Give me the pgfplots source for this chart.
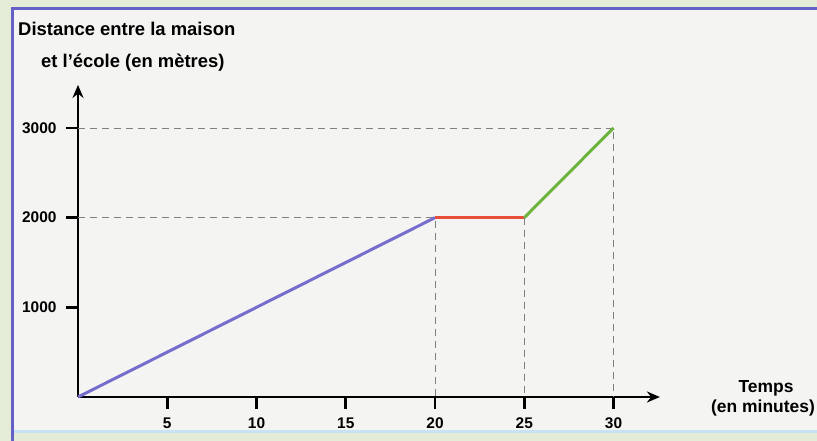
\documentclass[border=0pt]{standalone}
\usepackage{pgfplots}
\pgfplotsset{compat=1.18}
\usepackage{fontspec}
\setmainfont{Liberation Sans}
\usetikzlibrary{arrows.meta}
\definecolor{outerbg}{RGB}{228,236,216}
\definecolor{innerbg}{RGB}{244,244,242}
\definecolor{frameblue}{RGB}{100,96,200}
\definecolor{lightblue}{RGB}{200,225,245}
\definecolor{lblue}{RGB}{118,110,205}
\definecolor{lred}{RGB}{232,78,58}
\definecolor{lgreen}{RGB}{108,180,62}
\newcommand{\tickfont}{\fontsize{15.5}{18}\selectfont\bfseries}
\begin{document}
\begin{tikzpicture}[x=1bp,y=1bp]
\fill[outerbg] (0,0) rectangle (817,441);
\useasboundingbox (0,0) rectangle (817,441);
\fill[innerbg] (12,9) rectangle (817,432);
\draw[frameblue, line width=3bp] (12,0) -- (12,432) -- (817,432);
\draw[lightblue, line width=3bp] (14,9) -- (817,9);
\node[anchor=base west, inner sep=0pt, font=\fontsize{18.5}{22}\selectfont\bfseries] at (18,405) {Distance entre la maison};
\node[anchor=base west, inner sep=0pt, font=\fontsize{18.5}{22}\selectfont\bfseries] at (41,373) {et l'école (en mètres)};
\node[anchor=base, inner sep=0pt, font=\fontsize{17.5}{20}\selectfont\bfseries] at (766,48) {Temps};
\node[anchor=base, inner sep=0pt, font=\fontsize{17.5}{20}\selectfont\bfseries] at (763,28) {(en minutes)};
\begin{axis}[
  at={(78bp,44bp)}, anchor=south west,
  x=17.85bp, y=0.08967bp,
  xmin=0, xmax=32.6, ymin=0, ymax=3480,
  axis lines=left,
  axis line style={line width=2.6bp, -{Stealth[length=13bp,width=11bp]}},
  xtick={5,10,15,20,25,30},
  xticklabels={\tickfont 5,\tickfont 10,\tickfont 15,\tickfont 20,\tickfont 25,\tickfont 30},
  ytick={1000,2000,3000},
  yticklabels={\tickfont 1000,\tickfont 2000,\tickfont 3000},
  tick align=outside,
  major tick length=12bp,
  tick style={line width=2.6bp, black},
  xticklabel style={yshift=-5bp},
  yticklabel style={xshift=-6bp},
  clip=false,
]
\addplot[gray, line width=0.9bp, dash pattern=on 7bp off 5bp] coordinates {(0,3000) (30,3000) (30,0)};
\addplot[gray, line width=0.9bp, dash pattern=on 7bp off 5bp] coordinates {(0,2000) (20,2000) (20,0)};
\addplot[gray, line width=0.9bp, dash pattern=on 7bp off 5bp] coordinates {(25,2000) (25,0)};
\addplot[lblue, line width=3bp] coordinates {(0,0) (20,2000)};
\addplot[lred, line width=3bp] coordinates {(20,2000) (25,2000)};
\addplot[lgreen, line width=3bp] coordinates {(25,2000) (30,3000)};
\end{axis}
\end{tikzpicture}
\end{document}
